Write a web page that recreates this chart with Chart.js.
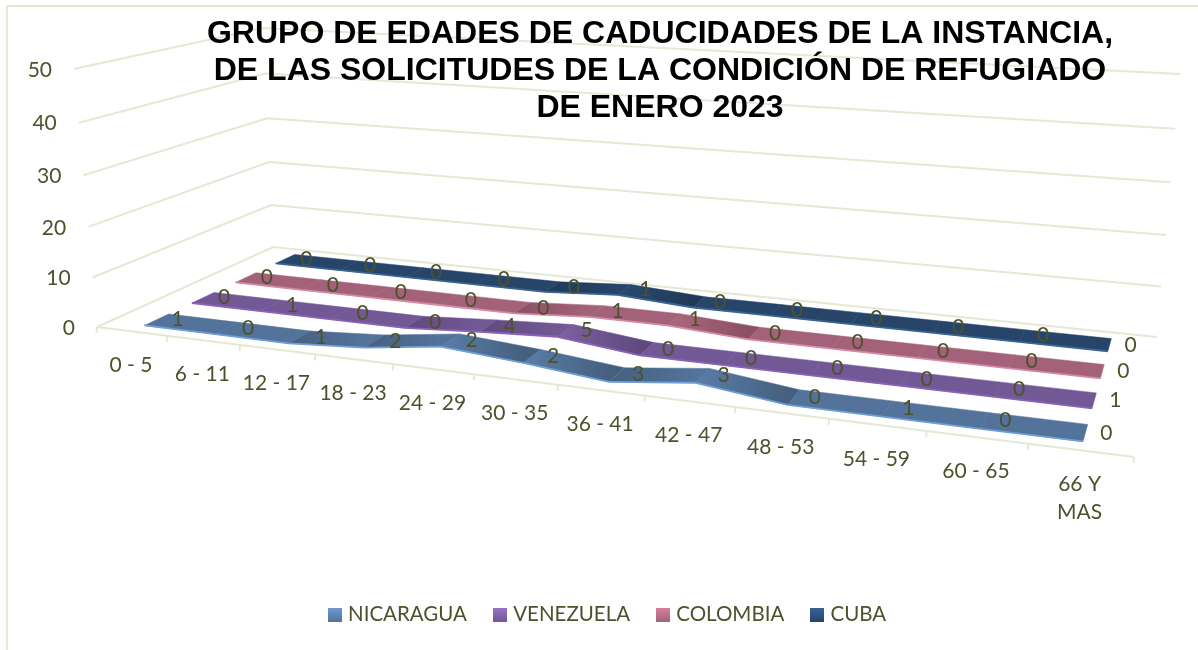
<!DOCTYPE html>
<html>
<head>
<meta charset="utf-8">
<style>
  html, body { margin: 0; padding: 0; background: #fff; }
  #wrap { width: 1198px; height: 650px; }
</style>
<script src="https://cdn.jsdelivr.net/npm/chart.js@4"></script>
</head>
<body>
<div id="wrap"><canvas id="canvas_line"></canvas></div>
<script>
const categories = ['0 - 5','6 - 11','12 - 17','18 - 23','24 - 29','30 - 35','36 - 41','42 - 47','48 - 53','54 - 59','60 - 65',['66 Y','MAS']];
const seriesNames = ['NICARAGUA','VENEZUELA','COLOMBIA','CUBA'];
// heights
const nicaragua = [0,0,0,1,3,1.8,0.2,2,0,0,0,0];
const venezuela = [0,0,0,0,1,1.8,0,0,0,0,0,0];
const colombia = [0,0,0,0,0,1,1,0,0,0,0,0];
const cuba = [0,0,0,0,0,1,0,0,0,0,0,0];
// printed data labels, in the picture they do not always agree with the ribbon height
const nicaraguaText = [1,0,1,2,2,2,3,3,0,1,0,0];
const venezuelaText = [0,1,0,0,4,5,0,0,0,0,0,1];
const colombiaText = [0,0,0,0,0,1,1,0,0,0,0,0];
const cubaText = [0,0,0,0,0,1,0,0,0,0,0,0];
const titleLines = ['GRUPO DE EDADES DE CADUCIDADES DE LA INSTANCIA,','DE LAS SOLICITUDES DE LA CONDICIÓN DE REFUGIADO','DE ENERO 2023'];

// legend top, flat, dark, edge, light for each series
const colors = [
  ['#6c9bd2','#53739a','#45607f','#6f9fd8','#5a7da8'],
  ['#9673c6','#735896','#5f4a7d','#8a63b8','#7d60a3'],
  ['#d97f9f','#a36279','#8a5064','#d58aa6','#ad6880'],
  ['#3a6496','#264569','#1f3a59','#3b6496','#2a4a70']
];
const textColor = '#4d522c';
const gridColor = '#e6e8d6';
const textFont = '21px Lato';

// corners of the 3d box on the page: floor and top
const floorQuad = [[97,327],[1134,457],[1157,337],[273,247]];
const topQuad = [[74,69],[1160,147],[1180,74],[263,28]];

function homography(q) {
  const dx1 = q[1][0]-q[2][0], dx2 = q[3][0]-q[2][0], sx = q[0][0]-q[1][0]+q[2][0]-q[3][0];
  const dy1 = q[1][1]-q[2][1], dy2 = q[3][1]-q[2][1], sy = q[0][1]-q[1][1]+q[2][1]-q[3][1];
  const den = dx1*dy2-dx2*dy1;
  const g = (sx*dy2-dx2*sy)/den, h = (dx1*sy-sx*dy1)/den;
  const a = q[1][0]-q[0][0]+g*q[1][0], b = q[3][0]-q[0][0]+h*q[3][0];
  const d = q[1][1]-q[0][1]+g*q[1][1], e = q[3][1]-q[0][1]+h*q[3][1];
  return (u,v) => {
    const k = g*u+h*v+1;
    return [(a*u+b*v+q[0][0])/k, (d*u+e*v+q[0][1])/k];
  };
}
const floorMap = homography(floorQuad);
const topMap = homography(topQuad);

function project(u,v,w) {
  const f = floorMap(u,v), t = topMap(u,v);
  const h = w*(0.95+0.05*w);
  return [f[0]+(t[0]-f[0])*h, f[1]+(t[1]-f[1])*h];
}

function ribbonDepth(i) {
  return [(i+0.25)/4, (i+0.75)/4];
}

function pointToBox(chart, pt) {
  const area = chart.chartArea;
  return [(pt.x-area.left)/area.width, (area.bottom-pt.y)/area.height];
}

function legendIcon(top, bottom) {
  const c = document.createElement('canvas');
  c.width = 14; c.height = 14;
  const g = c.getContext('2d');
  const grad = g.createLinearGradient(0,0,0,14);
  grad.addColorStop(0, top);
  grad.addColorStop(1, bottom);
  g.fillStyle = grad;
  g.fillRect(0,0,14,14);
  return c;
}

const box3d = {
  id: 'box3d',
  afterLayout(chart) {
    // the title sits right of the legend centre
    chart.titleBlock.left = 122;
    chart.titleBlock.right = 1198;
  },
  beforeDraw(chart) {
    const ctx = chart.ctx, yScale = chart.scales.y, xScale = chart.scales.x;
    const area = chart.chartArea;
    ctx.save();
    ctx.strokeStyle = gridColor;
    ctx.lineWidth = 2;
    ctx.strokeRect(7,6,1400,1400);
    yScale.ticks.forEach(t => {
      const w = (area.bottom-yScale.getPixelForValue(t.value))/area.height;
      const a = project(0,0,w), b = project(0,1,w), c = project(1,1,w);
      ctx.beginPath();
      ctx.moveTo(a[0],a[1]); ctx.lineTo(b[0],b[1]); ctx.lineTo(c[0],c[1]);
      ctx.stroke();
    });
    const a = project(0,0,0), b = project(1,0,0);
    ctx.beginPath();
    ctx.moveTo(a[0],a[1]); ctx.lineTo(b[0],b[1]);
    ctx.stroke();
    const step = area.width/categories.length;
    for (let i=0;i<=categories.length;i++) {
      const p = project(i*step/area.width,0,0);
      ctx.beginPath();
      ctx.moveTo(p[0],p[1]); ctx.lineTo(p[0]-0.5,p[1]+6);
      ctx.stroke();
    }
    ctx.fillStyle = textColor;
    ctx.font = textFont;
    ctx.textBaseline = 'middle';
    ctx.textAlign = 'right';
    yScale.ticks.forEach(t => {
      const w = (area.bottom-yScale.getPixelForValue(t.value))/area.height;
      const p = project(0,0,w);
      ctx.fillText(t.label, p[0]-22, p[1]+1);
    });
    ctx.textAlign = 'center';
    xScale.ticks.forEach((t,i) => {
      const u = (xScale.getPixelForValue(i)-area.left)/area.width;
      const p = project(u,0,0);
      const lines = [].concat(xScale.getLabelForValue(i));
      lines.forEach((s,k) => ctx.fillText(s, p[0]-1, p[1]+34+k*28));
    });
    ctx.restore();
  },
  beforeDatasetDraw(chart, args) {
    const ctx = chart.ctx, pts = chart.getDatasetMeta(args.index).data;
    const depth = ribbonDepth(args.index), col = colors[args.index];
    const data = chart.data.datasets[args.index].data;
    ctx.save();
    for (let i=0;i<pts.length-1;i++) {
      const p = pointToBox(chart,pts[i]), q = pointToBox(chart,pts[i+1]);
      const a = project(p[0],depth[0],p[1]), b = project(q[0],depth[0],q[1]);
      const c = project(q[0],depth[1],q[1]), d = project(p[0],depth[1],p[1]);
      const diff = data[i+1]-data[i];
      let fill = col[1];
      if (diff !== 0) {
        fill = ctx.createLinearGradient(a[0],0,b[0],0);
        // rising parts start dark, falling parts end dark
        fill.addColorStop(0, diff > 0 ? col[2] : col[4]);
        fill.addColorStop(1, diff > 0 ? col[1] : col[2]);
      }
      ctx.fillStyle = fill;
      ctx.strokeStyle = col[1];
      ctx.lineWidth = 0.5;
      ctx.beginPath();
      ctx.moveTo(a[0],a[1]); ctx.lineTo(b[0],b[1]); ctx.lineTo(c[0],c[1]); ctx.lineTo(d[0],d[1]);
      ctx.closePath();
      ctx.fill();
      ctx.stroke();
      ctx.strokeStyle = col[3];
      ctx.lineWidth = 1.8;
      ctx.beginPath();
      ctx.moveTo(a[0],a[1]); ctx.lineTo(b[0],b[1]);
      ctx.stroke();
    }
    ctx.restore();
    return false;
  },
  afterDatasetsDraw(chart) {
    const ctx = chart.ctx;
    ctx.save();
    ctx.fillStyle = textColor;
    ctx.font = textFont;
    ctx.textAlign = 'center';
    ctx.textBaseline = 'middle';
    for (let s=chart.data.datasets.length-1;s>=0;s--) {
      const ds = chart.data.datasets[s], depth = ribbonDepth(s);
      chart.getDatasetMeta(s).data.forEach((pt,i) => {
        const b = pointToBox(chart,pt);
        const p = project(b[0],(depth[0]+depth[1])/2,b[1]);
        ctx.fillText(String(ds.valueLabels[i]), p[0]+21, p[1]);
      });
    }
    ctx.restore();
  }
};

const allSeries = [nicaragua,venezuela,colombia,cuba];
const allText = [nicaraguaText,venezuelaText,colombiaText,cubaText];

new Chart(document.getElementById('canvas_line'), {
  type: 'line',
  plugins: [box3d],
  data: {
    labels: categories,
    datasets: allSeries.map((values,i) => ({
      label: seriesNames[i],
      data: values,
      valueLabels: allText[i],
      borderColor: colors[i][1],
      backgroundColor: colors[i][1],
      pointStyle: legendIcon(colors[i][0],colors[i][1])
    }))
  },
  options: {
    responsive: true,
    maintainAspectRatio: false,
    animation: false,
    layout: { padding: { left: 20, top: 16, bottom: 15 } },
    scales: {
      x: { display: false, offset: true },
      y: { display: false, min: 0, max: 50, ticks: { stepSize: 10 } }
    },
    plugins: {
      tooltip: { enabled: false },
      title: {
        display: true,
        text: titleLines,
        color: '#000',
        font: { family: '"Liberation Sans"', size: 32, weight: 'bold', lineHeight: 1.156 },
        padding: { top: 0, bottom: 10 }
      },
      legend: {
        position: 'bottom',
        labels: {
          usePointStyle: true,
          pointStyleWidth: 6,
          boxHeight: 14,
          color: textColor,
          font: { family: 'Lato', size: 20.5 },
          padding: 30
        }
      }
    }
  }
});
</script>
</body>
</html>
